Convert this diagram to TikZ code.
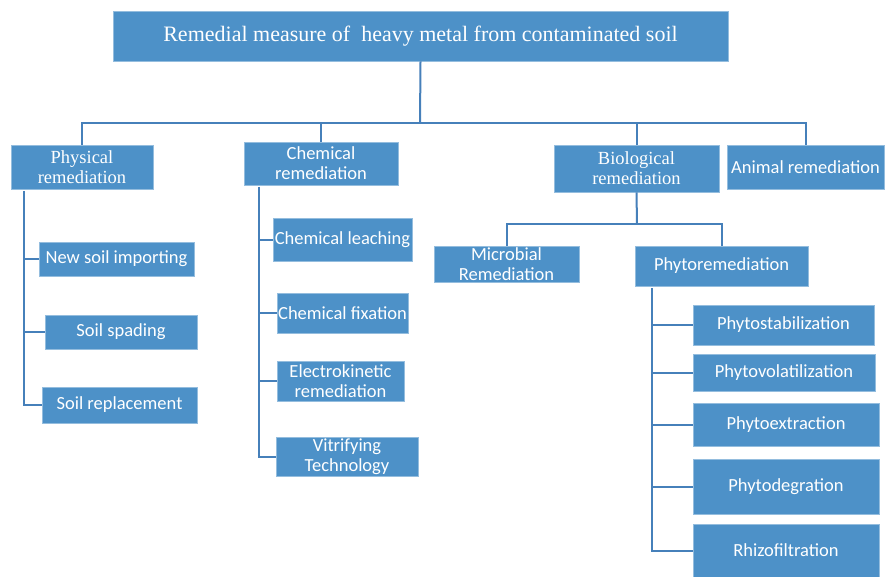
\documentclass[tikz,border=0pt]{standalone}
\usepackage{fontspec}
\setmainfont{Carlito}
\newfontfamily\tms{Liberation Serif}
\definecolor{boxblue}{RGB}{77,145,200}
\definecolor{lineblue}{RGB}{70,128,186}
\tikzset{
  box/.style={draw=boxblue!60!white, line width=0.8pt, fill=boxblue, text=white,
    inner sep=0pt, align=center, font=\fontsize{18.5}{20}\selectfont},
  serifbox/.style={box, font=\tms\fontsize{18.5}{20}\selectfont},
  conn/.style={draw=lineblue, line width=2pt}
}
\begin{document}
\begin{tikzpicture}[x=1pt,y=-1pt]
\useasboundingbox (0,0) rectangle (885,577);
% top level
\node[box, font=\tms\fontsize{22}{24}\selectfont, minimum width=615, minimum height=50] (title) at (420.5,36) {Remedial measure of~~heavy metal from contaminated soil};
\node[serifbox, minimum width=142, minimum height=44] (phys) at (82,167) {Physical\\remediation};
\node[box, minimum width=154, minimum height=43] (chem) at (321,163.5) {Chemical\\remediation};
\node[serifbox, minimum width=165, minimum height=47] (bio) at (636.5,168.5) {Biological\\remediation};
\node[box, minimum width=157, minimum height=44] (animal) at (805.5,167) {Animal remediation};
% physical
\node[box, minimum width=155, minimum height=34] (newsoil) at (116.5,259) {New soil importing};
\node[box, minimum width=152, minimum height=34] (spading) at (121,332) {Soil spading};
\node[box, minimum width=155, minimum height=36] (replace) at (119.5,405) {Soil replacement};
% chemical
\node[box, minimum width=139, minimum height=43] (leach) at (342.5,239.5) {Chemical leaching};
\node[box, minimum width=131, minimum height=40] (fix) at (342.5,313) {Chemical fixation};
\node[box, minimum width=127, minimum height=40] (electro) at (340.5,381) {Electrokinetic\\remediation};
\node[box, minimum width=142, minimum height=39] (vitri) at (347,456.5) {Vitrifying\\Technology};
% biological
\node[box, minimum width=145, minimum height=36] (micro) at (506.5,264) {Microbial\\Remediation};
\node[box, minimum width=173, minimum height=40] (phyto) at (721.5,266) {Phytoremediation};
\node[box, minimum width=181, minimum height=40] (stab) at (783.5,325) {Phytostabilization};
\node[box, minimum width=182, minimum height=37] (vol) at (784,372.5) {Phytovolatilization};
\node[box, minimum width=186, minimum height=43] (ext) at (786,424.5) {Phytoextraction};
\node[box, minimum width=186, minimum height=55] (deg) at (786,486.5) {Phytodegration};
\node[box, minimum width=186, minimum height=53] (rhizo) at (786,550.5) {Rhizofiltration};
% connectors top
\coordinate (hub) at (420,123);
\draw[conn] (title.south) -- (hub);
\draw[conn] (phys.north) |- (hub);
\draw[conn] (chem.north) |- (hub);
\draw[conn] (bio.north) |- (hub);
\draw[conn] (animal.north) |- (hub);
% physical tree
\coordinate (pv) at (24,191);
\draw[conn] (pv) |- (replace.west);
\draw[conn] (pv |- newsoil.west) -- (newsoil.west);
\draw[conn] (pv |- spading.west) -- (spading.west);
% chemical tree
\coordinate (cv) at (259,187);
\draw[conn] (cv) |- (vitri.west);
\draw[conn] (cv |- leach.west) -- (leach.west);
\draw[conn] (cv |- fix.west) -- (fix.west);
\draw[conn] (cv |- electro.west) -- (electro.west);
% biological
\coordinate (bh) at (637,224);
\draw[conn] (bio.south) -- (bh);
\draw[conn] (micro.north) |- (bh);
\draw[conn] (phyto.north) |- (bh);
% phyto tree
\coordinate (fv) at (652,288);
\draw[conn] (fv) |- (rhizo.west);
\draw[conn] (fv |- stab.west) -- (stab.west);
\draw[conn] (fv |- vol.west) -- (vol.west);
\draw[conn] (fv |- ext.west) -- (ext.west);
\draw[conn] (fv |- deg.west) -- (deg.west);
\end{tikzpicture}
\end{document}
